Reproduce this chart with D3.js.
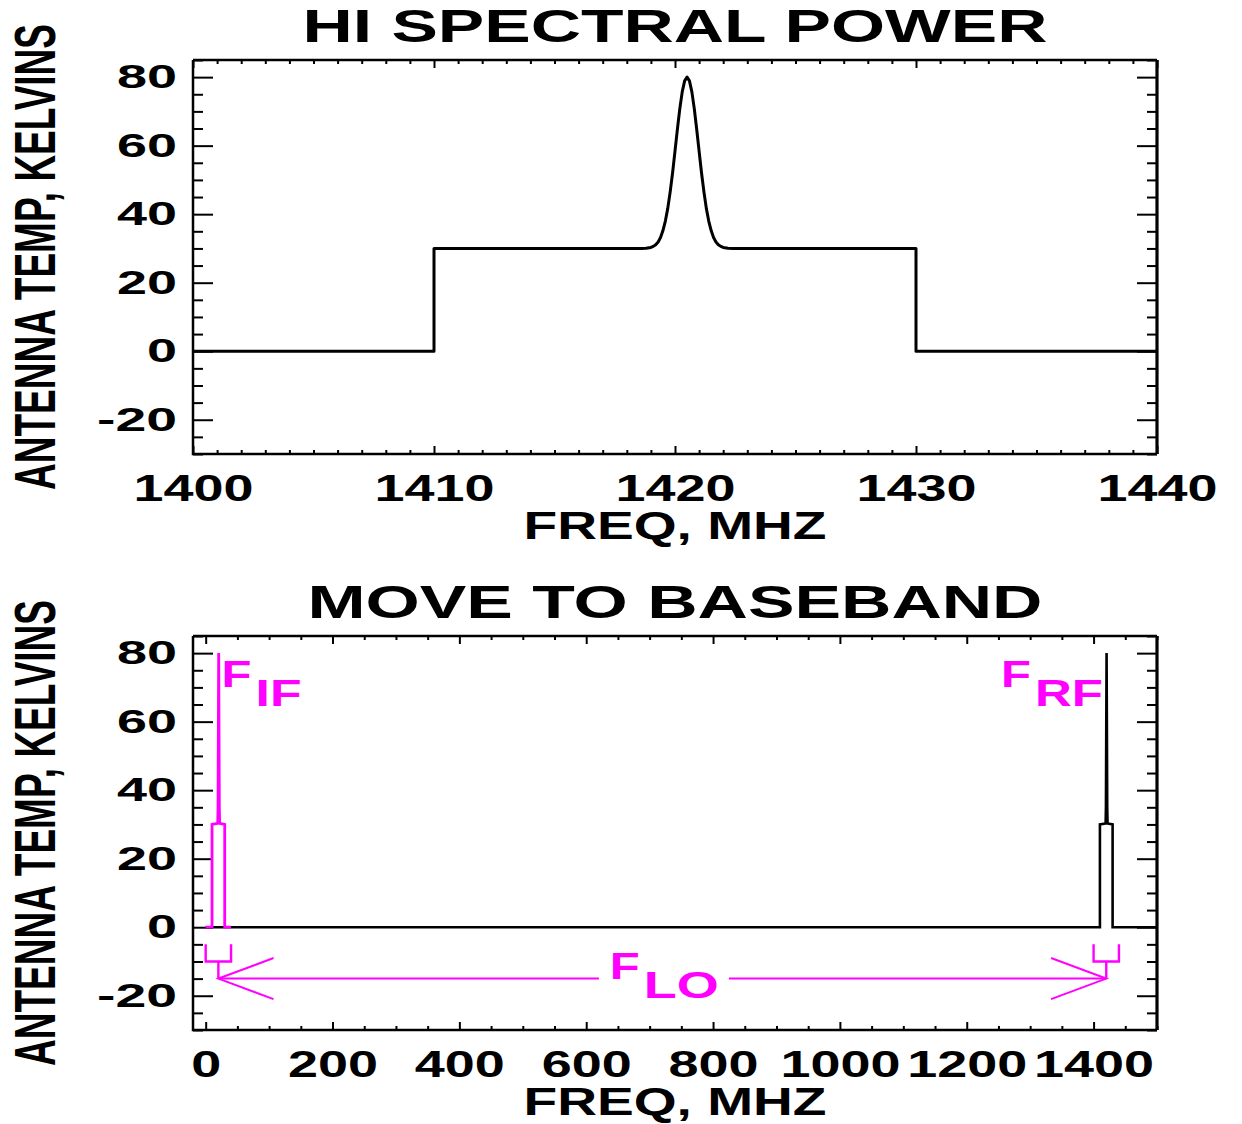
<!DOCTYPE html>
<html>
<head>
<meta charset="utf-8">
<script src="https://cdn.jsdelivr.net/npm/d3@7"></script>
<style>
  html, body { margin: 0; padding: 0; background: #fff; }
  svg text { font-family: "Liberation Sans", Arial, Helvetica, sans-serif; font-weight: bold; }
</style>
</head>
<body>
<svg id="chart" width="1242" height="1124"></svg>
<script>
// ---------------- DATA ----------------
// Top panel: HI spectrum (frequency in MHz, antenna temperature in K)
const topFreq = [1400, 1410, 1410, 1418.4, 1418.6, 1418.8,
  1419.0, 1419.1, 1419.2, 1419.3, 1419.4, 1419.5, 1419.6, 1419.7, 1419.8, 1419.9,
  1420.0, 1420.1, 1420.2, 1420.3, 1420.4, 1420.5,
  1420.6, 1420.7, 1420.8, 1420.9, 1421.0, 1421.1, 1421.2, 1421.3, 1421.4, 1421.5,
  1421.6, 1421.7, 1421.8, 1421.9, 1422.0, 1422.2, 1422.4, 1422.6, 1430, 1430, 1440];
const topTemp = [0, 0, 30, 30, 30.01, 30.05,
  30.3, 30.6, 31.1, 31.9, 33.2, 35.2, 38.0, 41.7, 46.5, 52.1,
  58.4, 64.8, 70.8, 75.7, 78.9, 80.0,
  78.9, 75.7, 70.8, 64.8, 58.4, 52.1, 46.5, 41.7, 38.0, 35.2,
  33.2, 31.9, 31.1, 30.6, 30.3, 30.05, 30.01, 30, 30, 0, 0];

// Bottom panel: RF spectrum (black) and IF spectrum moved to baseband (magenta)
const rfFreq = [0, 1410, 1410, 1419, 1419.5, 1420, 1420.5, 1421, 1421.5, 1422, 1430, 1430, 1500];
const rfTemp = [0, 0, 30, 30.3, 35.2, 58.4, 80, 58.4, 35.2, 30.3, 30, 0, 0];
const ifFreq = [0, 10, 10, 19, 19.5, 20, 20.5, 21, 21.5, 22, 30, 30, 40];
const ifTemp = [0, 0, 30, 30.3, 35.2, 58.4, 80, 58.4, 35.2, 30.3, 30, 0, 0];

// Bottom panel annotation geometry (data units)
const bracketIF = [[0, -5], [0, -10], [40, -10], [40, -5]];
const stemIF = [[20, -10], [20, -15]];
const bracketRF = [[1400, -5], [1400, -10], [1440, -10], [1440, -5]];
const stemRF = [[1420, -10], [1420, -15]];
const loArrowLeft = [[20, -15], [620, -15]];
const loArrowRight = [[825, -15], [1420, -15]];
const headLeft = [[107, -9], [20, -15], [107, -21]];
const headRight = [[1333, -9], [1420, -15], [1333, -21]];
const labelsBottom = [
  { main: "F", sub: "IF", f: 25, t: 70 },
  { main: "F", sub: "RF", f: 1254, t: 70 },
  { main: "F", sub: "LO", f: 637, t: -15 }
];

// Axes
const topXDomain = [1400, 1440];
const topXMajor = [1400, 1410, 1420, 1430, 1440];
const topXMinorStep = 1;
const botXDomain = [-20, 1500];
const botXMajor = [0, 200, 400, 600, 800, 1000, 1200, 1400];
const botXMinorStep = 50;
const yDomain = [-30, 85];
const yMajor = [-20, 0, 20, 40, 60, 80];
const yMinorStep = 5;

const titles = ["HI SPECTRAL POWER", "MOVE TO BASEBAND"];
const xTitle = "FREQ, MHZ";
const yTitle = "ANTENNA TEMP, KELVINS";

// ---------------- DRAWING ----------------
const svg = d3.select("#chart");
const MAG = "#ff00ff";
const plotW = 964, plotH = 394;
const panels = [
  { left: 193, top: 60, xDomain: topXDomain, xMajor: topXMajor, xStep: topXMinorStep, title: titles[0], titleY: 42, titleLen: 745 },
  { left: 193, top: 636, xDomain: botXDomain, xMajor: botXMajor, xStep: botXMinorStep, title: titles[1], titleY: 618, titleLen: 735 }
];

function minorTicks(domain, step) {
  const out = [];
  const start = Math.ceil(domain[0] / step);
  const end = Math.floor(domain[1] / step);
  for (let i = start; i <= end; i++) out.push(+(i * step).toFixed(6));
  return out;
}

function labelLen(s) {
  let w = 0;
  for (const c of s) w += (c === "-" ? 20 : 30);
  return w;
}

function styleTicks(sel) {
  sel.select(".domain").remove();
  sel.selectAll("line").attr("stroke", "#000").attr("stroke-width", 2);
}

const fmt = d => String(d);

function drawPanel(p) {
  const g = svg.append("g").attr("transform", `translate(${p.left},${p.top})`);
  const x = d3.scaleLinear().domain(p.xDomain).range([0, plotW]);
  const y = d3.scaleLinear().domain(yDomain).range([plotH, 0]);

  // minor ticks
  const xMin = minorTicks(p.xDomain, p.xStep).filter(v => !p.xMajor.includes(v));
  const yMin = minorTicks(yDomain, yMinorStep).filter(v => !yMajor.includes(v));
  g.append("g").attr("transform", `translate(0,${plotH})`)
    .call(d3.axisBottom(x).tickValues(xMin).tickSize(-4).tickFormat("")).call(styleTicks);
  g.append("g")
    .call(d3.axisTop(x).tickValues(xMin).tickSize(-4).tickFormat("")).call(styleTicks);
  g.append("g")
    .call(d3.axisLeft(y).tickValues(yMin).tickSize(-10).tickFormat("")).call(styleTicks);
  g.append("g").attr("transform", `translate(${plotW},0)`)
    .call(d3.axisRight(y).tickValues(yMin).tickSize(-10).tickFormat("")).call(styleTicks);

  // major ticks with labels
  const xb = g.append("g").attr("transform", `translate(0,${plotH})`)
    .call(d3.axisBottom(x).tickValues(p.xMajor).tickSize(-8).tickPadding(21).tickFormat(fmt))
    .call(styleTicks);
  xb.selectAll("text").attr("fill", "#000").style("font-size", "36px")
    .attr("textLength", function() { return labelLen(this.textContent); })
    .attr("lengthAdjust", "spacingAndGlyphs");
  g.append("g")
    .call(d3.axisTop(x).tickValues(p.xMajor).tickSize(-8).tickFormat("")).call(styleTicks);
  const yl = g.append("g")
    .call(d3.axisLeft(y).tickValues(yMajor).tickSize(-20).tickPadding(16).tickFormat(fmt))
    .call(styleTicks);
  yl.selectAll("text").attr("fill", "#000").style("font-size", "33px")
    .attr("textLength", function() { return labelLen(this.textContent); })
    .attr("lengthAdjust", "spacingAndGlyphs");
  g.append("g").attr("transform", `translate(${plotW},0)`)
    .call(d3.axisRight(y).tickValues(yMajor).tickSize(-20).tickFormat("")).call(styleTicks);

  // frame
  g.append("path").attr("d", `M0,0H${plotW}`).attr("stroke", "#000").attr("stroke-width", 2.5);
  g.append("path").attr("d", `M0,0V${plotH}H${plotW}`).attr("stroke", "#000").attr("stroke-width", 2.5).attr("fill", "none");
  g.append("path").attr("d", `M${plotW},0V${plotH}`).attr("stroke", "#000").attr("stroke-width", 3.2);

  // title
  svg.append("text").attr("x", p.left + plotW / 2).attr("y", p.titleY)
    .attr("text-anchor", "middle").style("font-size", "47px")
    .attr("textLength", p.titleLen).attr("lengthAdjust", "spacingAndGlyphs")
    .text(p.title);
  // x title
  svg.append("text").attr("x", p.left + plotW / 2).attr("y", p.top + plotH + 85)
    .attr("text-anchor", "middle").style("font-size", "39px")
    .attr("textLength", 303).attr("lengthAdjust", "spacingAndGlyphs")
    .text(xTitle);
  // y title
  svg.append("text")
    .attr("transform", `translate(55,${p.top + plotH / 2}) rotate(-90)`)
    .attr("text-anchor", "middle").style("font-size", "58px")
    .attr("textLength", 466).attr("lengthAdjust", "spacingAndGlyphs")
    .text(yTitle);

  return { g, x, y };
}

const line = (x, y) => d3.line().x(d => x(d[0])).y(d => y(d[1]));

// Top panel
const P1 = drawPanel(panels[0]);
P1.g.append("path")
  .datum(topFreq.map((f, i) => [f, topTemp[i]]))
  .attr("d", line(P1.x, P1.y))
  .attr("fill", "none").attr("stroke", "#000").attr("stroke-width", 3)
  .attr("stroke-linejoin", "round");

// Bottom panel
const P2 = drawPanel(panels[1]);
const lb = line(P2.x, P2.y);
P2.g.append("path")
  .datum(rfFreq.map((f, i) => [f, rfTemp[i]]))
  .attr("d", lb).attr("fill", "none").attr("stroke", "#000").attr("stroke-width", 2.6);
P2.g.append("path")
  .datum(ifFreq.map((f, i) => [f, ifTemp[i]]))
  .attr("d", lb).attr("fill", "none").attr("stroke", MAG).attr("stroke-width", 2.8);

[bracketIF, stemIF, bracketRF, stemRF].forEach(d => {
  P2.g.append("path").datum(d).attr("d", lb).attr("fill", "none")
    .attr("stroke", MAG).attr("stroke-width", 2.4);
});
[loArrowLeft, loArrowRight, headLeft, headRight].forEach(d => {
  P2.g.append("path").datum(d).attr("d", lb).attr("fill", "none")
    .attr("stroke", MAG).attr("stroke-width", 2);
});

const subLen = { IF: 46, RF: 68, LO: 75 };
labelsBottom.forEach(l => {
  const bx = P2.x(l.f), by = P2.y(l.t);
  P2.g.append("text").attr("x", bx).attr("y", by)
    .attr("fill", MAG).style("font-size", "36px")
    .attr("textLength", 30).attr("lengthAdjust", "spacingAndGlyphs")
    .text(l.main);
  P2.g.append("text").attr("x", bx + 34).attr("y", by + 19)
    .attr("fill", MAG).style("font-size", "36px")
    .attr("textLength", subLen[l.sub]).attr("lengthAdjust", "spacingAndGlyphs")
    .text(l.sub);
});
</script>
</body>
</html>
